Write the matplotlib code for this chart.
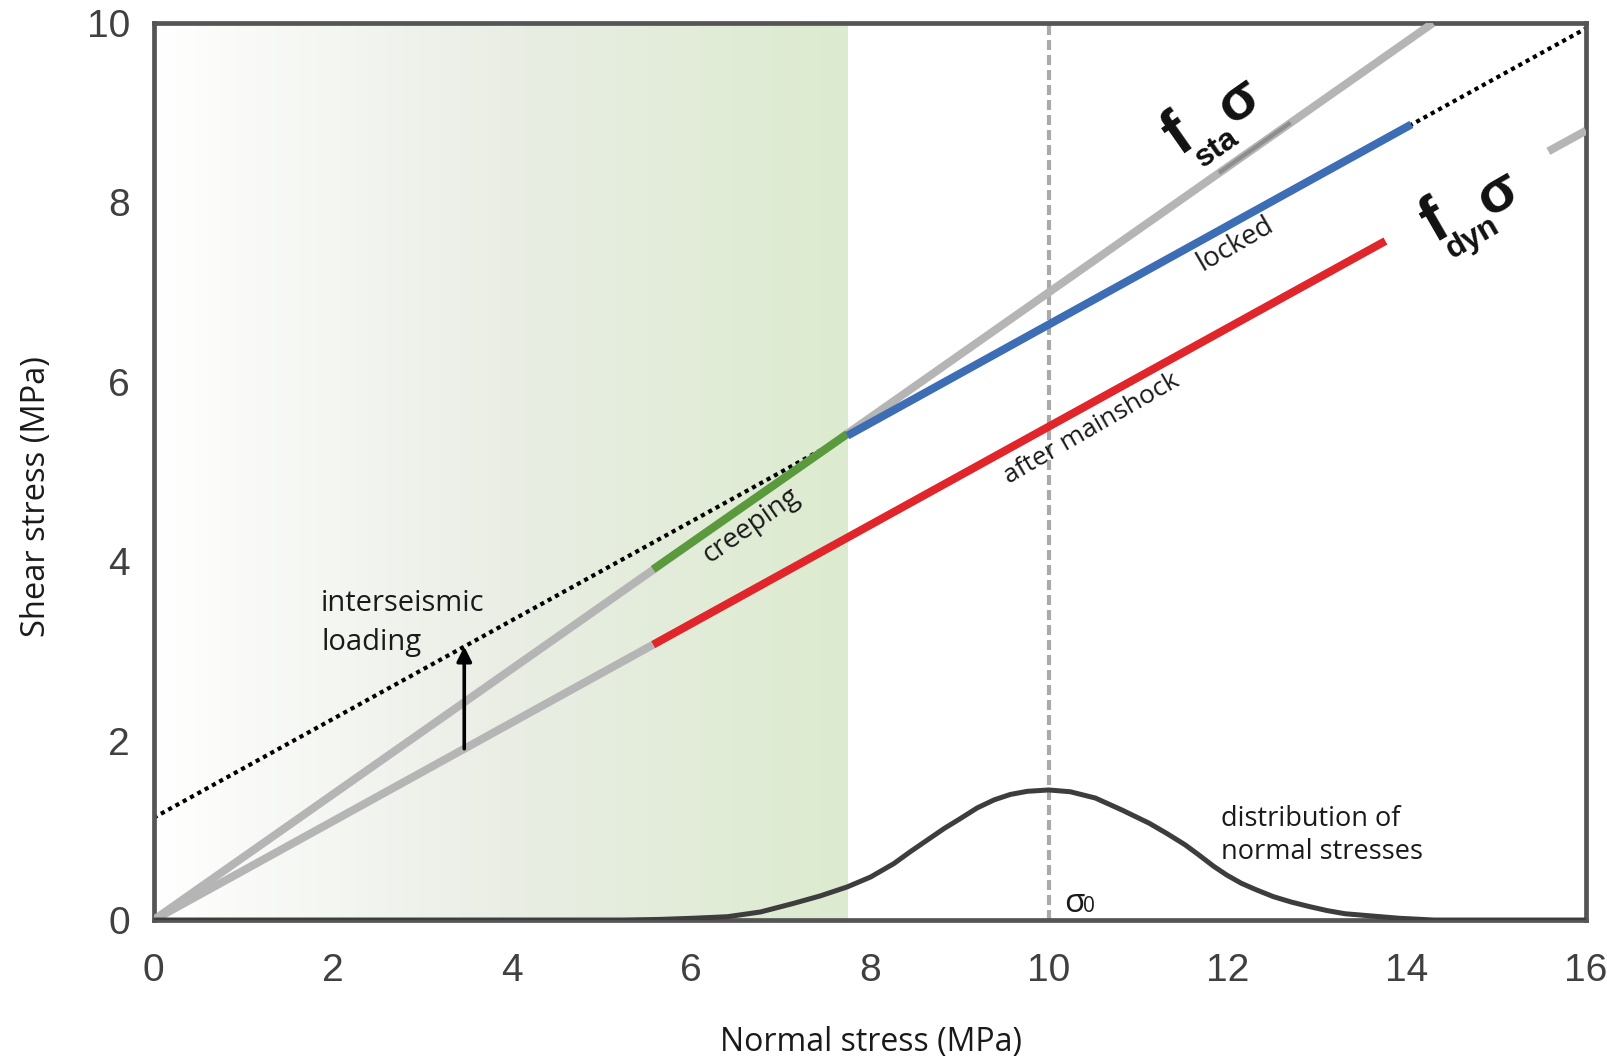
import matplotlib.pyplot as plt
import numpy as np
from matplotlib.colors import LinearSegmentedColormap

# valores
x_ticks = [0, 2, 4, 6, 8, 10, 12, 14, 16]
y_ticks = [0, 2, 4, 6, 8, 10]

static_x = [0.0, 14.29]
static_y = [0.0, 10.0]
static_shadow_x = [11.9, 12.7]
static_shadow_y = [8.33, 8.89]
creep_x = [5.58, 7.75]
creep_y = [3.91, 5.42]

dyn_low_x = [0.0, 5.58]
dyn_low_y = [0.0, 3.07]
dyn_high_x = [15.58, 16.0]
dyn_high_y = [8.57, 8.80]
after_x = [5.58, 13.76]
after_y = [3.07, 7.57]

loading_x = [0.0, 16.0]
loading_y = [1.14, 9.94]
locked_x = [7.75, 14.05]
locked_y = [5.40, 8.87]

arrow_x = 3.47
arrow_y = [1.91, 3.05]

sigma0 = 10.0
green_end = 7.75

# distribucion de esfuerzos normales
dist_x = [0.0, 5.25, 5.66, 6.03, 6.41, 6.78, 7.15, 7.45, 7.75, 8.01, 8.27,
          8.45, 8.64, 8.83, 9.01, 9.20, 9.39, 9.57, 9.76, 10.0, 10.24, 10.52,
          10.82, 11.12, 11.32, 11.52, 11.67, 11.84, 11.99, 12.15, 12.31, 12.51,
          12.71, 12.91, 13.11, 13.31, 13.61, 13.91, 14.3, 16.0]
dist_y = [0.0, 0.0, 0.007, 0.02, 0.037, 0.09, 0.186, 0.27, 0.37, 0.48, 0.63,
          0.76, 0.89, 1.02, 1.13, 1.25, 1.34, 1.40, 1.435, 1.45, 1.43, 1.36,
          1.225, 1.08, 0.964, 0.84, 0.73, 0.60, 0.50, 0.41, 0.34, 0.26,
          0.20, 0.15, 0.105, 0.07, 0.045, 0.02, 0.0, 0.0]

gray = '#b5b5b5'
txt_font = ['Open Sans', 'DejaVu Sans']
txt_col = '#1a1a1a'


def friction_label(ax, x, y, angle, sub):
    # f, subindice y sigma girados sobre la misma linea base
    a = np.deg2rad(angle)
    parts = [('f', 0, 0, 46), (sub, 18, -23, 23), ('σ', 50, -4, 42)]
    for s, u, v, size in parts:
        dx = u * np.cos(a) - v * np.sin(a)
        dy = u * np.sin(a) + v * np.cos(a)
        ax.annotate(s, xy=(x, y), xytext=(dx, dy), textcoords='offset points',
                    rotation=angle, rotation_mode='anchor', ha='center', va='center',
                    fontsize=size, fontweight='bold', family='Liberation Sans',
                    color='#111111', zorder=6)


fig = plt.figure(figsize=(16.07, 10.63), dpi=100)
ax = fig.add_axes([0.0956, 0.1345, 0.8913, 0.8438])

# fondo degradado (zona creeping)
cmap = LinearSegmentedColormap.from_list('g', [(0, '#ffffff'), (0.5, '#eaeee5'), (1, '#dcebcf')])
ax.imshow(np.linspace(0, 1, 256)[None, :], cmap=cmap, aspect='auto',
          extent=[0, green_end, 0, 10], zorder=0)

ax.axvline(sigma0, color='#aaaaaa', lw=3, dashes=(2.4, 1.2), zorder=1)
ax.plot(loading_x, loading_y, color='black', lw=3.0, ls=(0, (1, 1)), zorder=2)

ax.plot(static_x, static_y, color=gray, lw=5.8, solid_capstyle='butt', zorder=3)
ax.plot(static_shadow_x, static_shadow_y, color='#8e8e8e', lw=3, solid_capstyle='butt', zorder=3)
ax.plot(dyn_low_x, dyn_low_y, color=gray, lw=5.8, solid_capstyle='butt', zorder=3)
ax.plot(dyn_high_x, dyn_high_y, color=gray, lw=5.8, solid_capstyle='butt', zorder=3)

ax.plot(creep_x, creep_y, color='#5a9a3c', lw=5.8, solid_capstyle='butt', zorder=4)
ax.plot(locked_x, locked_y, color='#3d6db4', lw=5.8, solid_capstyle='butt', zorder=4)
ax.plot(after_x, after_y, color='#e0252b', lw=5.8, solid_capstyle='butt', zorder=4)

ax.plot(dist_x, dist_y, color='#3d3d3d', lw=3.6, solid_joinstyle='round', zorder=3)

ax.annotate('', xy=(arrow_x, arrow_y[1]), xytext=(arrow_x, arrow_y[0]),
            arrowprops=dict(arrowstyle='-|>', color='black', lw=2.6,
                            mutation_scale=22, shrinkA=0, shrinkB=0), zorder=5)

# textos
ax.text(1.87, 3.44, 'interseismic', fontsize=21, family=txt_font, color=txt_col, va='baseline')
ax.text(1.87, 3.01, 'loading', fontsize=21, family=txt_font, color=txt_col, va='baseline')
ax.text(6.68, 4.40, 'creeping', fontsize=20, family=txt_font, color=txt_col,
        rotation=35, rotation_mode='anchor', ha='center', va='center')
ax.text(12.08, 7.54, 'locked', fontsize=20, family=txt_font, color=txt_col,
        rotation=30, rotation_mode='anchor', ha='center', va='center')
ax.text(10.48, 5.48, 'after mainshock', fontsize=19, family=txt_font, color=txt_col,
        rotation=30, rotation_mode='anchor', ha='center', va='center')
ax.text(11.92, 1.05, 'distribution of', fontsize=19.5, family=txt_font, color=txt_col, va='baseline')
ax.text(11.92, 0.68, 'normal stresses', fontsize=19.5, family=txt_font, color=txt_col, va='baseline')
ax.text(10.17, 0.09, 'σ', fontsize=24, family=txt_font, color=txt_col, va='baseline')
ax.annotate('0', xy=(10.17, 0.09), xytext=(13.5, 0), textcoords='offset points',
            fontsize=15, family=txt_font, color=txt_col, va='baseline')

friction_label(ax, 11.45, 8.74, 35, 'sta')
friction_label(ax, 14.32, 7.77, 30, 'dyn')

ax.set_xlim(0, 16)
ax.set_ylim(0, 10)
ax.set_xticks(x_ticks)
ax.set_yticks(y_ticks)
ax.tick_params(length=0, labelsize=28, labelcolor='#404040')
ax.tick_params(axis='x', pad=24)
ax.tick_params(axis='y', pad=17)
for lab in ax.get_xticklabels() + ax.get_yticklabels():
    lab.set_family('Liberation Sans')
for s in ax.spines.values():
    s.set_color('#555555')
    s.set_linewidth(3.4)

ax.set_xlabel('Normal stress (MPa)', fontsize=23, family=txt_font, color=txt_col)
ax.set_ylabel('Shear stress (MPa)', fontsize=23.5, family=txt_font, color=txt_col)
ax.xaxis.set_label_coords(0.501, -0.137)
ax.xaxis.label.set_va('center')
ax.yaxis.set_label_coords(-0.082, 0.472)
ax.yaxis.label.set_va('center')

fig.savefig('out.png', dpi=100)
